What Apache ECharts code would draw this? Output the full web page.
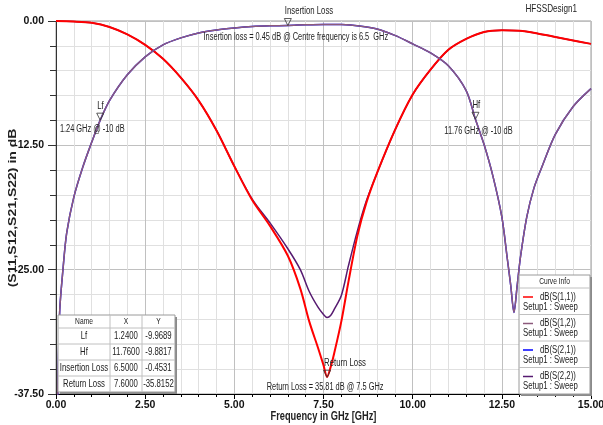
<!DOCTYPE html>
<html>
<head>
<meta charset="utf-8">
<script src="https://cdn.jsdelivr.net/npm/echarts@6/dist/echarts.min.js"></script>
<style>
html, body { margin: 0; padding: 0; background: #fff; }
#chart { width: 603px; height: 425px; }
</style>
</head>
<body>
<div id="chart"></div>
<script>
// frequency (GHz) and dB values
var freqRefl = [0, 0.5, 1.0, 1.5, 2.0, 2.5, 3.0, 3.5, 4.0, 4.5, 5.0, 5.5, 6.0, 6.5, 6.85, 7.1, 7.35, 7.5, 7.6, 7.7, 7.8, 8.0, 8.2, 8.45, 8.7, 9.0, 9.5, 10.0, 10.5, 11.0, 11.5, 12.0, 12.5, 13.0, 13.5, 14.0, 14.5, 15.0];
var s11 = [0, -0.05, -0.18, -0.6, -1.35, -2.4, -3.8, -5.7, -8.0, -11.0, -14.6, -18.0, -20.6, -23.6, -26.9, -30.2, -32.9, -34.6, -35.8, -34.8, -33.4, -30.2, -26.2, -21.6, -18.3, -15.3, -11.0, -7.4, -4.9, -2.9, -1.8, -1.1, -0.92, -0.98, -1.25, -1.6, -1.95, -2.3];
var s22 = [0, -0.05, -0.18, -0.6, -1.35, -2.4, -3.8, -5.7, -8.0, -11.0, -14.6, -17.9, -20.3, -22.9, -25.0, -27.2, -28.8, -29.5, -29.8, -29.6, -29.0, -27.6, -24.6, -21.1, -18.1, -15.3, -11.0, -7.4, -4.9, -2.9, -1.8, -1.1, -0.92, -0.98, -1.25, -1.6, -1.95, -2.3];

var freqTrans = [0, 0.1, 0.2, 0.3, 0.5, 0.75, 1.0, 1.24, 1.5, 2.0, 2.5, 3.0, 3.5, 4.0, 4.5, 5.0, 5.5, 6.0, 6.5, 7.0, 7.5, 8.0, 8.5, 9.0, 9.5, 10.0, 10.5, 11.0, 11.5, 11.76, 12.0, 12.25, 12.5, 12.65, 12.75, 12.84, 12.93, 13.02, 13.2, 13.4, 13.62, 14.0, 14.5, 15.0];
var s12 = [-48, -29.5, -24.8, -21.3, -17.7, -14.7, -12.2, -9.97, -8.0, -5.4, -3.6, -2.4, -1.7, -1.2, -0.9, -0.7, -0.55, -0.48, -0.45, -0.38, -0.34, -0.36, -0.5, -0.8, -1.45, -2.3, -3.2, -4.5, -7.0, -9.88, -12.4, -15.6, -19.7, -23.8, -26.6, -29.3, -26.6, -23.8, -19.7, -16.8, -14.7, -11.4, -8.6, -6.8];
var s21 = [-48, -29.5, -24.8, -21.3, -17.7, -14.7, -12.2, -9.97, -8.0, -5.4, -3.6, -2.4, -1.7, -1.2, -0.9, -0.7, -0.55, -0.48, -0.45, -0.38, -0.34, -0.36, -0.5, -0.8, -1.45, -2.3, -3.2, -4.5, -7.0, -9.88, -12.4, -15.6, -19.7, -23.8, -26.6, -29.3, -26.6, -23.8, -19.7, -16.8, -14.7, -11.4, -8.6, -6.8];

var curveNames = ['dB(S(1,1))', 'dB(S(1,2))', 'dB(S(2,1))', 'dB(S(2,2))'];
var curveColors = ['#ff0000', '#8c5a7c', '#0000ff', '#561a70'];

var markerNames = ['Lf', 'Hf', 'Insertion Loss', 'Return Loss'];
var markerX = [1.24, 11.76, 6.5, 7.6];
var markerY = [-9.9689, -9.8817, -0.4531, -35.8152];
var markerNotes = ['1.24 GHz @ -10 dB', '11.76 GHz @ -10 dB', 'Insertion loss = 0.45 dB @ Centre frequency is 6.5  GHz', 'Return Loss = 35.81 dB @ 7.5 GHz'];
var noteOffsets = [[-8, 9], [3, 12], [8, 12], [-2, 10]];

var xTicks = { min: 0, max: 15, step: 2.5 };
var yTicks = { min: -37.5, max: 0, step: 12.5 };

var F = "'Liberation Sans',Arial,sans-serif";
var SX = 0.74; // the HFSS text is horizontally squeezed

function pairs(xs, ys) {
    return xs.map(function (x, i) { return [x, ys[i]]; });
}

function lineSeries(idx, xs, ys, width) {
    return {
        name: curveNames[idx],
        type: 'line',
        data: pairs(xs, ys),
        showSymbol: false,
        smooth: 0.3,
        clip: true,
        lineStyle: { color: curveColors[idx], width: width },
        itemStyle: { color: curveColors[idx] }
    };
}

function txt(x, y, text, size, align, extra) {
    var el = {
        type: 'text', x: x, y: y, scaleX: SX, z: 10,
        style: { text: text, font: size + 'px ' + F, fill: '#222', align: align || 'left', verticalAlign: 'middle' }
    };
    if (extra) { for (var k in extra) el[k] = extra[k]; }
    return el;
}

// curve info box (bottom right)
function curveInfo() {
    var left = 519, top = 275, w = 71, head = 13, rowH = 26.5;
    var els = [
        { type: 'rect', z: 9, shape: { x: left + 2, y: top + 2, width: w, height: head + rowH * 4 }, style: { fill: '#8a8a8a' } },
        { type: 'rect', z: 9, shape: { x: left, y: top, width: w, height: head + rowH * 4 }, style: { fill: '#fff', stroke: '#9a9a9a', lineWidth: 1 } },
        txt(left + w / 2, top + head / 2 + 0.5, 'Curve Info', 9, 'center')
    ];
    for (var i = 0; i < 4; i++) {
        var y0 = top + head + i * rowH;
        els.push({ type: 'line', z: 9, shape: { x1: left, y1: y0, x2: left + w, y2: y0 }, style: { stroke: '#c0c0c0', lineWidth: 1 } });
        els.push({ type: 'line', z: 10, shape: { x1: left + 4, y1: y0 + 9, x2: left + 14, y2: y0 + 9 }, style: { stroke: curveColors[i], lineWidth: 1.5 } });
        els.push(txt(left + 21, y0 + 9, curveNames[i], 10.5));
        els.push(txt(left + 4, y0 + 19, 'Setup1 : Sweep', 10.5));
    }
    return els;
}

// marker table (bottom left)
function markerTable() {
    var left = 58, top = 315, cols = [58, 110, 142, 175], head = 13, rowH = 16;
    var h = head + rowH * markerNames.length;
    var els = [
        { type: 'rect', z: 9, shape: { x: left + 2, y: top + 2, width: cols[3] - left, height: h }, style: { fill: '#8a8a8a' } },
        { type: 'rect', z: 9, shape: { x: left, y: top, width: cols[3] - left, height: h }, style: { fill: '#fff', stroke: '#9a9a9a', lineWidth: 1 } }
    ];
    [1, 2].forEach(function (c) {
        els.push({ type: 'line', z: 9, shape: { x1: cols[c], y1: top, x2: cols[c], y2: top + h }, style: { stroke: '#c0c0c0', lineWidth: 1 } });
    });
    ['Name', 'X', 'Y'].forEach(function (t, c) {
        els.push(txt((cols[c] + cols[c + 1]) / 2, top + head / 2 + 0.5, t, 9, 'center'));
    });
    markerNames.forEach(function (name, r) {
        var y0 = top + head + r * rowH;
        els.push({ type: 'line', z: 9, shape: { x1: left, y1: y0, x2: cols[3], y2: y0 }, style: { stroke: '#c0c0c0', lineWidth: 1 } });
        [name, markerX[r].toFixed(4), markerY[r].toFixed(4)].forEach(function (t, c) {
            els.push(txt((cols[c] + cols[c + 1]) / 2, y0 + rowH / 2 + 0.5, t, 10.5, 'center'));
        });
    });
    return els;
}

var chart = echarts.init(document.getElementById('chart'));

var tickLabel = {
    fontFamily: F, fontSize: 10.5, fontWeight: 'bold', color: '#111',
    formatter: function (v) { return v.toFixed(2); }
};

var option = {
    animation: false,
    backgroundColor: '#fff',
    grid: {
        left: 56, right: 12, top: 21, bottom: 31,
        outerBoundsMode: 'none', containLabel: false,
        show: true, borderColor: '#9a9a9a', borderWidth: 1
    },
    xAxis: {
        type: 'value',
        min: xTicks.min, max: xTicks.max, interval: xTicks.step,
        axisLine: { show: true, onZero: false, lineStyle: { color: '#000', width: 1 } },
        axisTick: { show: true, length: 5, lineStyle: { color: '#000' } },
        minorTick: { show: true, splitNumber: 5, length: 3, lineStyle: { color: '#000' } },
        splitLine: { show: true, lineStyle: { color: '#c0c0c0' } },
        minorSplitLine: { show: true, lineStyle: { color: '#e0e0e0' } },
        axisLabel: Object.assign({ margin: 6 }, tickLabel)
    },
    yAxis: {
        type: 'value',
        min: yTicks.min, max: yTicks.max, interval: yTicks.step,
        axisLine: { show: true, onZero: false, lineStyle: { color: '#333', width: 1 } },
        axisTick: { show: true, length: 8, lineStyle: { color: '#333' } },
        minorTick: { show: true, splitNumber: 5, length: 6, lineStyle: { color: '#333' } },
        splitLine: { show: true, lineStyle: { color: '#c0c0c0' } },
        minorSplitLine: { show: true, lineStyle: { color: '#e0e0e0' } },
        axisLabel: Object.assign({ margin: 12 }, tickLabel)
    },
    series: [
        lineSeries(3, freqRefl, s22, 1.5),
        lineSeries(0, freqRefl, s11, 2),
        lineSeries(2, freqTrans, s21, 1.5),
        lineSeries(1, freqTrans, s12, 1.5),
        {
            // marker triangles
            type: 'scatter',
            data: pairs(markerX, markerY),
            symbol: 'triangle',
            symbolRotate: 180,
            symbolSize: [7, 7],
            symbolOffset: [0, -3.5],
            itemStyle: { color: 'rgba(255,255,255,0)', borderColor: '#333', borderWidth: 1 },
            z: 5
        }
    ]
};

chart.setOption(option);

// marker names and notes, placed from the chart's own scales
var markerText = [];
markerX.forEach(function (x, i) {
    var p = chart.convertToPixel({ gridIndex: 0 }, [x, markerY[i]]);
    markerText.push(txt(p[0] - 3, p[1] - 14, markerNames[i], 10.5));
    markerText.push(txt(p[0] + noteOffsets[i][0], p[1] + noteOffsets[i][1], markerNotes[i], 10, 'center'));
});

var titles = [
    txt(577, 9, 'HFSSDesign1', 11, 'right'),
    txt(323.5, 417, 'Frequency in GHz [GHz]', 12.5, 'center', { style: { text: 'Frequency in GHz [GHz]', font: 'bold 12.5px ' + F, fill: '#222', align: 'center', verticalAlign: 'middle' } }),
    {
        type: 'text', x: 13, y: 208, rotation: Math.PI / 2, scaleY: 0.74, z: 10,
        style: { text: '(S11,S12,S21,S22) in dB', font: 'bold 14px ' + F, fill: '#222', align: 'center', verticalAlign: 'middle' }
    }
];

chart.setOption({ graphic: titles.concat(markerText, curveInfo(), markerTable()) });
</script>
</body>
</html>
